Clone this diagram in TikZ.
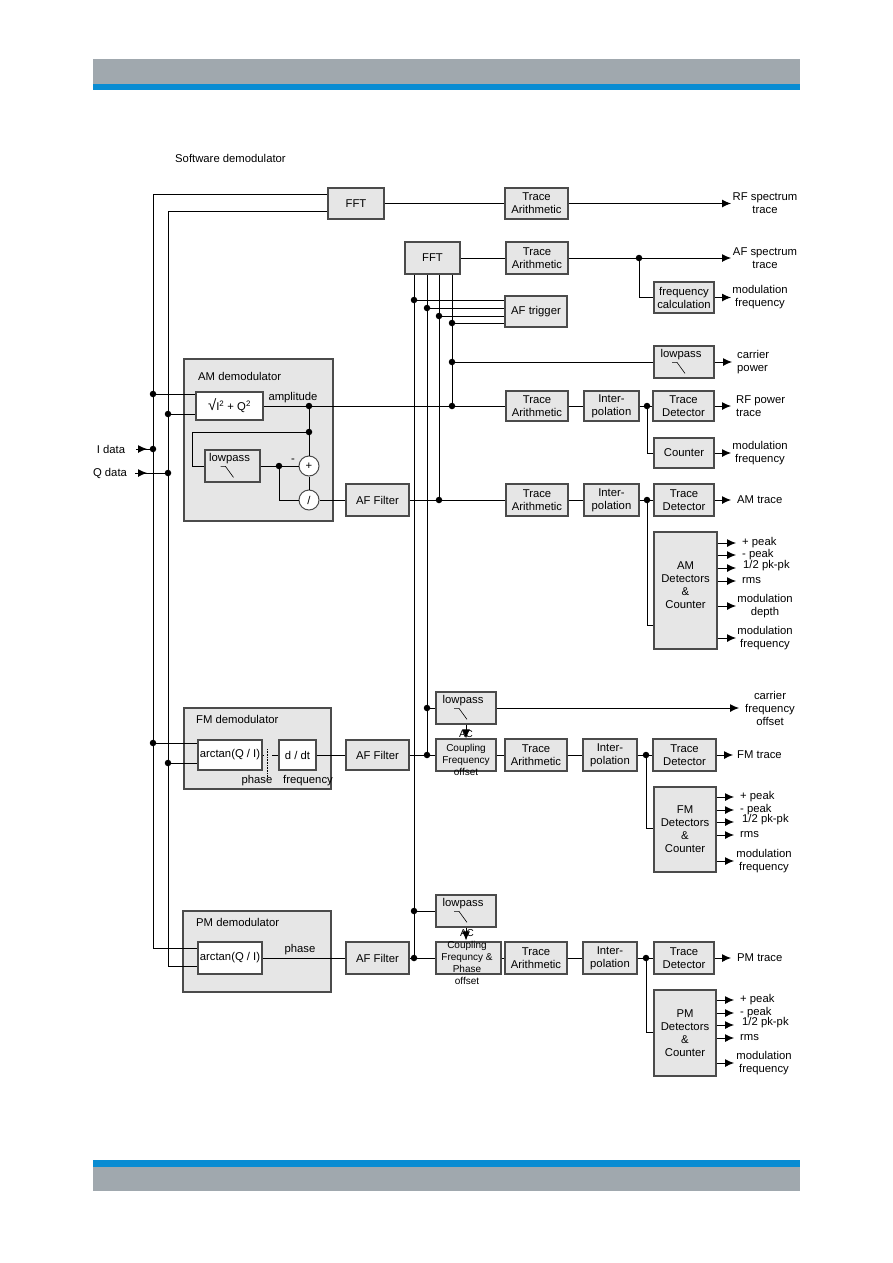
\documentclass[tikz,border=0pt]{standalone}
\usepackage{fontspec}
\setmainfont{Liberation Sans}
\usetikzlibrary{arrows.meta,calc}
\definecolor{hgray}{RGB}{160,168,174}
\definecolor{hblue}{RGB}{10,140,210}
\definecolor{boxf}{RGB}{230,230,230}
\definecolor{boxc}{RGB}{75,75,75}
\newcommand\fs{\fontsize{11.3}{13}\selectfont}
\newcommand\fsm{\fontsize{10}{11.8}\selectfont}
\newcommand\bx[7][blk]{%
  \pgfmathsetmacro\bxcx{(#3+#5)/2}\pgfmathsetmacro\bxcy{(#4+#6)/2}%
  \pgfmathsetmacro\bxw{#5-#3}\pgfmathsetmacro\bxh{#6-#4}%
  \node[#1, minimum width=\bxw pt, minimum height=\bxh pt] (#2) at (\bxcx,\bxcy) {#7};}
\newcommand\lpsym[1]{%
  \node[lbl] at ($(#1.north)+(-3,9)$) {lowpass};
  \draw[ln, line width=0.6pt] ($(#1.north)+(-12,17)$) -- ++(5,0) -- ++(8,11);}
\tikzset{
  blk/.style={draw=boxc, fill=boxf, line width=1.2pt, align=center, inner sep=0pt, font=\fs},
  wbox/.style={blk, fill=white},
  cont/.style={draw=boxc, fill=boxf, line width=1.2pt, inner sep=0pt},
  circ/.style={circle, draw=boxc, fill=white, line width=1pt, minimum size=20pt, inner sep=0pt, font=\fs},
  ln/.style={line width=0.9pt, draw=black},
  arr/.style={ln, -{Latex[length=9pt,width=8pt]}},
  dot/.style={circle, fill=black, inner sep=0pt, minimum size=6.5pt},
  lbl/.style={font=\fs, align=center, inner sep=0pt},
  lbll/.style={font=\fs, align=left, inner sep=0pt, anchor=west},
}
\begin{document}
\begin{tikzpicture}[x=1pt,y=-1pt]
\useasboundingbox (0,0) rectangle (893,1263);
\fill[white] (0,0) rectangle (893,1263);
% header and footer bars
\fill[hgray] (93,59) rectangle (800,84);
\fill[hblue] (93,84) rectangle (800,90);
\fill[hblue] (93,1160) rectangle (800,1167);
\fill[hgray] (93,1167) rectangle (800,1191);
\node[lbll] (title) at (175,158) {Software demodulator};

% containers
\bx[cont]{amdem}{184}{359}{333}{521}{}
\bx[cont]{fmdem}{184}{708}{331}{789}{}
\bx[cont]{pmdem}{183}{911}{331}{992}{}
\node[lbll] at (198,376) {AM demodulator};
\node[lbll] at (196,719) {FM demodulator};
\node[lbll] at (196,922) {PM demodulator};

% boxes
\bx{FFTa}{328}{188}{384}{219}{FFT}
\bx{TAa}{505}{188}{568}{219}{Trace\\Arithmetic}
\bx{FFTb}{405}{242}{460}{274}{FFT}
\bx{TAb}{506}{242}{568}{274}{Trace\\Arithmetic}
\bx{fcalc}{654}{282}{714}{313}{frequency\\calculation}
\bx{aftrig}{505}{296}{567}{327}{AF trigger}
\bx{lpc}{654}{346}{714}{378}{}
\bx{TAc}{506}{391}{568}{421}{Trace\\Arithmetic}
\bx{IPc}{584}{391}{639}{421}{Inter-\\polation}
\bx{TDc}{653}{391}{714}{421}{Trace\\Detector}
\bx{cnt}{654}{438}{714}{468}{Counter}
\bx{TAd}{506}{484}{568}{516}{Trace\\Arithmetic}
\bx{IPd}{584}{484}{639}{516}{Inter-\\polation}
\bx{TDd}{654}{484}{714}{516}{Trace\\Detector}
\bx{amdet}{654}{532}{717}{649}{}
\node[lbl] at (685.5,585) {AM\\Detectors\\\&\\Counter};
\bx[wbox]{sqr}{196}{392}{263}{420}{{\fontsize{15}{15}\selectfont √}I\textsuperscript{2} + Q\textsuperscript{2}}
\bx{lpa}{205}{450}{260}{482}{}
\node[circ] (plus) at (309,466) {+};
\node[circ] (div) at (309,500) {/};
\bx{afa}{346}{484}{409}{516}{AF Filter}

\bx[wbox]{arcF}{198}{740}{262}{770}{arctan(Q / I)}
\bx[wbox]{ddt}{279}{740}{316}{770}{d / dt}
\bx{aff}{346}{740}{409}{770}{AF Filter}
\bx{lpf}{436}{692}{496}{724}{}
\bx{cpf}{436}{739}{496}{771}{}
\bx{TAf}{505}{739}{567}{771}{Trace\\Arithmetic}
\bx{IPf}{583}{739}{637}{771}{Inter-\\polation}
\bx{TDf}{653}{739}{716}{771}{Trace\\Detector}
\bx{fmdet}{654}{787}{716}{872}{FM\\Detectors\\\&\\Counter}

\bx[wbox]{arcP}{198}{942}{262}{974}{arctan(Q / I)}
\bx{afp}{346}{942}{409}{974}{AF Filter}
\bx{lpp}{436}{895}{496}{927}{}
\bx{cpp}{436}{942}{501}{974}{}
\bx{TAp}{505}{942}{567}{974}{Trace\\Arithmetic}
\bx{IPp}{583}{942}{637}{974}{Inter-\\polation}
\bx{TDp}{654}{942}{714}{974}{Trace\\Detector}
\bx{pmdet}{654}{990}{716}{1076}{PM\\Detectors\\\&\\Counter}

% lowpass symbols
\lpsym{lpc}
\lpsym{lpa}
\lpsym{lpf}
\lpsym{lpp}

% coupling labels
\node[font=\fsm, align=center, inner sep=0pt] at (466,734) {AC};
\node[font=\fsm, align=center, inner sep=0pt] at (466,760) {Coupling\\Frequency\\offset};
\node[font=\fsm, align=center, inner sep=0pt] at (467,957) {AC\\Coupling\\Frequncy \&\\Phase\\offset};

% junction coordinates and dots
\coordinate (i1) at (153,194);
\coordinate (q1) at (168,211);
\coordinate (iE) at (153,948);
\coordinate (qE) at (168,966);
\node[dot] (dI1) at (153,394) {};
\node[dot] (dQ1) at (168,414) {};
\node[dot] (dI2) at (153,449) {};
\node[dot] (dQ2) at (168,473) {};
\node[dot] (dI3) at (153,743) {};
\node[dot] (dQ3) at (168,763) {};
\node[dot] (j1) at (639,258) {};
\node[dot] (t1) at (414,300) {};
\node[dot] (t2) at (427,308) {};
\node[dot] (t3) at (439,316) {};
\node[dot] (t4) at (452,323) {};
\node[dot] (lc) at (452,362) {};
\node[dot] (jA) at (452,406) {};
\node[dot] (jAM) at (309,406) {};
\node[dot] (jAM2) at (309,432) {};
\coordinate (cL) at (192,432);
\node[dot] (jL) at (279,466) {};
\node[dot] (jB) at (439,500) {};
\node[dot] (jR) at (647,406) {};
\node[dot] (jS) at (647,500) {};
\node[dot] (jC2) at (427,708) {};
\node[dot] (jC) at (427,755) {};
\node[dot] (jF) at (646,755) {};
\node[dot] (jD2) at (414,911) {};
\node[dot] (jD) at (414,958) {};
\node[dot] (jP) at (646,958) {};

% output end points
\coordinate (oa) at (731,203.5);
\coordinate (ob) at (731,258);
\coordinate (oc) at (731,297.5);
\coordinate (od) at (732,362);
\coordinate (oe) at (731,406);
\coordinate (of) at (731,453);
\coordinate (og) at (731,500);
\coordinate (oh) at (733,755);
\coordinate (oi) at (739,708);
\coordinate (oj) at (731,958);

% I / Q buses
\draw[ln] (FFTa.west |- i1) -- (i1) -- (iE) -- (arcP.west |- iE);
\draw[ln] (FFTa.west |- q1) -- (q1) -- (qE) -- (arcP.west |- qE);
\draw[ln] (dI1) -- (sqr.west |- dI1);
\draw[ln] (dQ1) -- (sqr.west |- dQ1);
\draw[ln] (dI3) -- (arcF.west |- dI3);
\draw[ln] (dQ3) -- (arcF.west |- dQ3);

% I data / Q data
\node[lbl] (Ilab) at (111,449) {I data};
\node[lbl] (Qlab) at (110,473) {Q data};
\coordinate (ia) at (136,449);
\coordinate (qa) at (135,473);
\draw[ln] (ia) -- (dI2);
\draw[arr] (ia) -- ++(11,0);
\draw[ln] (qa) -- (dQ2);
\draw[arr] (qa) -- ++(12,0);

% RF spectrum
\draw[ln] (FFTa) -- (TAa);
\draw[arr] (TAa) -- (oa);
% AF spectrum
\draw[ln] (FFTb) -- (TAb);
\draw[ln] (TAb) -- (j1);
\draw[arr] (j1) -- (ob);
\draw[ln] (j1) |- (fcalc.west);
\draw[arr] (fcalc) -- (oc);

% buses from FFT2
\draw[ln] (jA) -- (jA |- FFTb.south);
\draw[ln] (jB) -- (jB |- FFTb.south);
\draw[ln] (jC) -- (jC |- FFTb.south);
\draw[ln] (jD) -- (jD |- FFTb.south);
\draw[ln] (t1) -- (aftrig.west |- t1);
\draw[ln] (t2) -- (aftrig.west |- t2);
\draw[ln] (t3) -- (aftrig.west |- t3);
\draw[ln] (t4) -- (aftrig.west |- t4);
\draw[ln] (lc) -- (lpc.west |- lc);
\draw[arr] (lpc.east |- lc) -- (od);

% amplitude path
\draw[ln] (sqr.east) -- (jAM) -- (jA) -- (TAc.west);
\draw[ln] (TAc) -- (IPc);
\draw[ln] (IPc) -- (jR) -- (TDc);
\draw[arr] (TDc) -- (oe);
\draw[ln] (jR) |- (cnt.west);
\draw[arr] (cnt) -- (of);

% AM internals
\draw[ln] (jAM) -- (jAM2) -- (plus.north);
\draw[ln] (jAM2) -- (cL) |- (lpa.west);
\draw[ln] (lpa.east) -- (jL) -- (plus.west);
\draw[ln] (jL) |- (div.west);
\draw[ln] (plus.south) -- (div.north);
\draw[ln] (div.east) -- (afa.west);
\draw[ln] (afa.east) -- (jB) -- (TAd.west);
\draw[ln] (TAd) -- (IPd);
\draw[ln] (IPd) -- (jS) -- (TDd);
\draw[arr] (TDd) -- (og);
\draw[ln] (jS) |- (amdet.west |- 0,625);

% FM path
\draw[ln] (arcF.east) -- (ddt.west);
\fill[boxf] (264,752) rectangle (272,758);
\draw[line width=0.6pt, densely dotted] (267,749) -- (267,779);
\draw[ln] (ddt) -- (aff);
\draw[ln] (aff) -- (jC) -- (cpf);
\draw[ln] (cpf) -- (TAf);
\draw[ln] (TAf) -- (IPf);
\draw[ln] (IPf) -- (jF) -- (TDf);
\draw[arr] (TDf) -- (oh);
\draw[ln] (jF) |- (fmdet.west |- 0,828);
\draw[ln] (jC2) -- (lpf.west |- jC2);
\draw[arr] (lpf.east |- jC2) -- (oi);
\draw[arr] (lpf.south) -- (lpf.south |- cpf.north);

% PM path
\draw[ln] (arcP) -- (afp);
\draw[ln] (afp) -- (jD) -- (cpp.west |- jD);
\draw[ln] (cpp.east |- jD) -- (TAp.west |- jD);
\draw[ln] (TAp) -- (IPp);
\draw[ln] (IPp) -- (jP) -- (TDp);
\draw[arr] (TDp) -- (oj);
\draw[ln] (jP) |- (pmdet.west |- 0,1032);
\draw[ln] (jD2) -- (lpp.west |- jD2);
\draw[arr] (lpp.south) -- ($(lpp.south |- cpp.north)+(0,-1)$);

% AM demodulator labels
\node[lbl] at (293,398) {amplitude};
\node[lbl] at (293,461) {-};
\node[lbl] at (257,781) {phase};
\node[lbl] at (308,781) {frequency};
\node[lbl] at (300,950) {phase};

% right labels
\node[lbl] at (765,203.5) {RF spectrum\\trace};
\node[lbl] at (765,258) {AF spectrum\\trace};
\node[lbl] at (760,297) {modulation\\frequency};
\node[lbll] at (737,362) {carrier\\power};
\node[lbll] at (736,406) {RF power\\trace};
\node[lbl] at (760,453) {modulation\\frequency};
\node[lbll] at (737,500) {AM trace};
\node[lbl] at (770,708) {carrier\\frequency\\offset};
\node[lbll] at (737,755) {FM trace};
\node[lbll] at (737,958) {PM trace};

% AM detector outputs
\foreach \yy in {543,555,568,581,606,638} \draw[arr] (amdet.east |- 0,\yy) -- (736,\yy);
\node[lbll] at (742,543) {+ peak};
\node[lbll] at (742,555) {- peak};
\node[lbll] at (743,566) {1/2 pk-pk};
\node[lbll] at (742,581) {rms};
\node[lbl] at (765,606) {modulation\\depth};
\node[lbl] at (765,638) {modulation\\frequency};

% FM detector outputs
\foreach \yy in {797,810,822,835,861} \draw[arr] (fmdet.east |- 0,\yy) -- (734,\yy);
\node[lbll] at (740,797) {+ peak};
\node[lbll] at (740,810) {- peak};
\node[lbll] at (742,820) {1/2 pk-pk};
\node[lbll] at (740,835) {rms};
\node[lbl] at (764,861) {modulation\\frequency};

% PM detector outputs
\foreach \yy in {1000,1013,1025,1038,1063} \draw[arr] (pmdet.east |- 0,\yy) -- (734,\yy);
\node[lbll] at (740,1000) {+ peak};
\node[lbll] at (740,1013) {- peak};
\node[lbll] at (742,1023) {1/2 pk-pk};
\node[lbll] at (740,1038) {rms};
\node[lbl] at (764,1063) {modulation\\frequency};
\end{tikzpicture}
\end{document}
